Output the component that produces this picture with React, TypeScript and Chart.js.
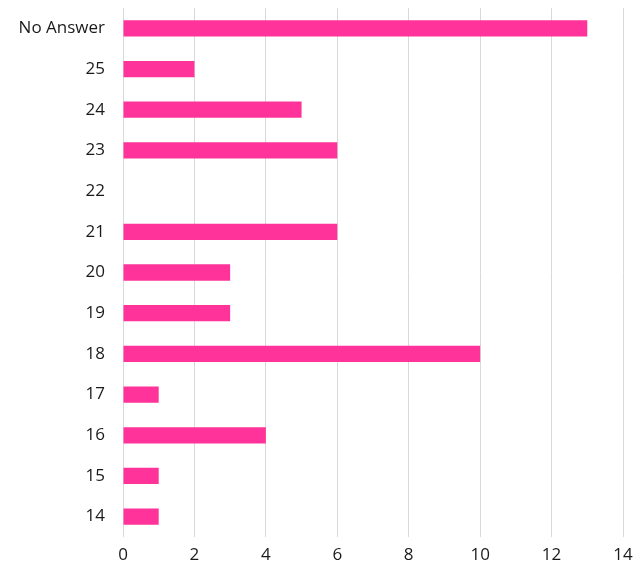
import React, { useEffect, useRef } from "react";
import { Chart, registerables } from "chart.js";

Chart.register(...registerables);

const categories = ["No Answer", "25", "24", "23", "22", "21", "20", "19", "18", "17", "16", "15", "14"];
const counts = [13, 2, 5, 6, 0, 6, 3, 3, 10, 1, 4, 1, 1];
const xTicks = [0, 2, 4, 6, 8, 10, 12, 14];

const FONT = "'Open Sans', 'Liberation Sans', sans-serif";

export default function App() {
  const ref = useRef<HTMLCanvasElement | null>(null);
  useEffect(() => {
    if (!ref.current) return;
    const chart = new Chart(ref.current, {
      type: "bar",
      data: {
        labels: categories,
        datasets: [
          {
            data: counts,
            backgroundColor: "#FF3399",
            barPercentage: 0.4,
            categoryPercentage: 1,
          },
        ],
      },
      options: {
        indexAxis: "y",
        animation: false,
        responsive: false,
        maintainAspectRatio: false,
        layout: { padding: { top: 8, right: 20, bottom: 5, left: 0 } },
        plugins: { legend: { display: false }, tooltip: { enabled: false } },
        scales: {
          x: {
            min: 0,
            max: 14,
            afterBuildTicks: (s: any) => {
              s.ticks = xTicks.map((v) => ({ value: v }));
            },
            afterFit: (s: any) => {
              s.height = 28;
            },
            grid: { color: "#D9D9D9", drawTicks: false, lineWidth: 1 },
            border: { display: false },
            ticks: {
              padding: 8,
              color: "#1a1a1a",
              font: { family: FONT, size: 17 },
            },
          },
          y: {
            grid: { display: false, drawTicks: false },
            border: { display: false },
            afterFit: (s: any) => {
              s.width = 123;
              s.paddingTop = 0;
              s.paddingBottom = 0;
            },
            ticks: {
              padding: 18,
              color: "#1a1a1a",
              font: { family: FONT, size: 17 },
            },
          },
        },
      },
    });
    return () => chart.destroy();
  }, []);
  return (
    <div style={{ position: "absolute", left: 0, top: 0, width: 643, height: 570, background: "#fff" }}>
      <canvas ref={ref} width={643} height={570} style={{ width: 643, height: 570 }} />
    </div>
  );
}
